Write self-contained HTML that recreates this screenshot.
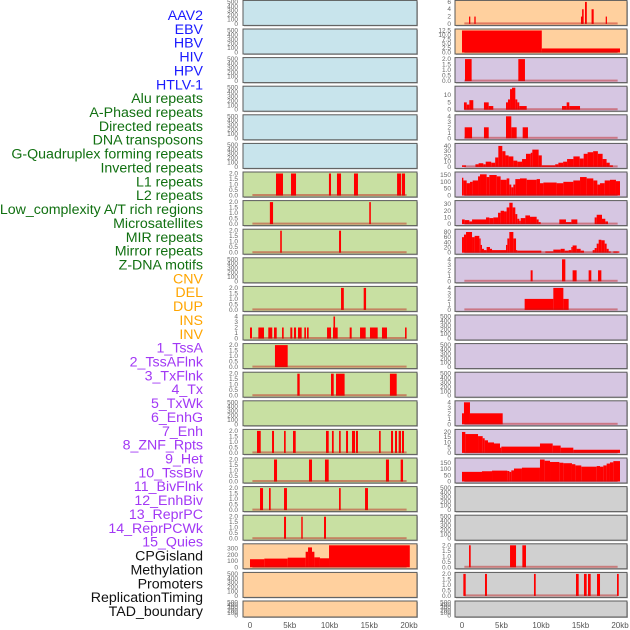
<!DOCTYPE html>
<html><head><meta charset="utf-8">
<style>
html,body{margin:0;padding:0;background:#fff;}
svg{display:block;font-family:"Liberation Sans",sans-serif;}
</style></head>
<body>
<svg id="chart" width="630" height="630" viewBox="0 0 630 630">
<g id="labels"></g>
<g id="panels"></g>
<g id="xaxes"></g>
</svg>
<script>
// ---- data ----
const trackLabels = ["AAV2","EBV","HBV","HIV","HPV","HTLV-1","Alu repeats","A-Phased repeats","Directed repeats","DNA transposons","G-Quadruplex forming repeats","Inverted repeats","L1 repeats","L2 repeats","Low_complexity A/T rich regions","Microsatellites","MIR repeats","Mirror repeats","Z-DNA motifs","CNV","DEL","DUP","INS","INV","1_TssA","2_TssAFlnk","3_TxFlnk","4_Tx","5_TxWk","6_EnhG","7_Enh","8_ZNF_Rpts","9_Het","10_TssBiv","11_BivFlnk","12_EnhBiv","13_ReprPC","14_ReprPCWk","15_Quies","CPGisland","Methylation","Promoters","ReplicationTiming","TAD_boundary"];
const labelGroupSizes = [6,13,5,15,5];
const labelGroupColors = ["#1a1aff","#117011","#ffa500","#a238f5","#111111"];
const xTickValues = [0,5,10,15,20];
const xTickLabels = ["0","5kb","10kb","15kb","20kb"];

const ticks500 = [0,100,200,300,400,500];
const ticks2 = [0,0.5,1,1.5,2];
const ticks4 = [0,1,2,3,4];

// left column bar panels (start kb, end kb, value)
const L7_start=[3.27,5.16,9.93,10.94,13.08,18.5,19.1], L7_end=[4.15,5.79,10.19,11.45,13.58,19.0,19.5], L7_val=[2,2,2,2,2,2,2];
const L8_start=[2.5,15.0], L8_end=[2.9,15.2], L8_val=[2,2];
const L9_start=[3.8,11.2], L9_end=[4.0,11.45], L9_val=[2,2];
const L11_start=[11.45,14.3], L11_end=[11.8,14.6], L11_val=[2,2];
const L12_start=[0.0,1.05,2.3,3.02,4.03,5.07,5.53,6.04,6.83,7.17,9.69,10.44,10.5,12.54,13.84,15.09,16.6,19.5];
const L12_end  =[0.25,1.76,2.8,3.36,4.24,5.32,5.79,6.5,7.04,7.38,10.19,11.03,10.7,12.79,14.55,16.06,17.23,19.7];
const L12_val  =[2,2,2,2,2,2,2,2,2,2,2,2,4,2,2,2,2,2];
const L13_start=[3.14], L13_end=[4.74], L13_val=[2];
const L14_start=[5.95,10.19,10.82,17.6], L14_end=[6.25,10.53,11.9,18.45], L14_val=[2,2,2,2];
const L16_start=[0.88,2.77,4.28,5.41,9.56,10.31,11.2,12.08,12.83,13.33,16.23,17.74,18.24,18.7,19.12];
const L16_end  =[1.35,3.02,4.49,5.75,9.9,10.53,11.41,12.33,13.21,13.58,16.44,17.99,18.49,18.99,19.37];
const L16_val  =[2,2,2,2,2,2,2,2,2,2,2,2,2,2,2];
const L17_start=[3.02,7.42,9.43,17.1,18.95], L17_end=[3.4,7.8,9.9,17.48,19.25], L17_val=[2,2,2,2,2];
const L18_start=[1.26,2.39,4.28,11.2,14.47], L18_end=[1.64,2.6,4.65,11.41,14.84], L18_val=[2,2,2,2,2];
const L19_start=[4.28,6.45,9.31], L19_end=[4.53,6.63,9.56], L19_val=[2,2,2];
const L20_edges=[0,1.8,4.74,7.0,7.3,7.8,8.1,8.8,9.94,20.1], L20_val=[130,140,155,250,320,250,160,145,360];

// right column
const R1_start=[0.89,1.56,15.06,15.2,15.57,16.4,18.19], R1_end=[1.05,1.73,15.3,15.4,15.8,16.67,18.35], R1_val=[2,2,2,4,6,4,2];
const R2_edges=[0,10.1,20], R2_val=[12.5,2.3];
const R3_start=[0.38,7.13], R3_end=[1.22,7.97], R3_val=[2,2];
const R4_edges=[0.25,0.6,0.93,1.43,2.78,3.38,3.96,5.57,5.82,6.08,6.33,6.75,7.0,7.25,8.19,12.66,13.25,13.58,14.94];
const R4_val=[5,3.5,6.5,0,5,2.5,0,5,7,14,15,7,5,2.5,0,2.5,5,2.5];
const R5_start=[0.34,2.78,5.57,6.24,7.68], R5_end=[1.27,3.38,6.24,6.92,8.35], R5_val=[2,2,4,2,2];
const R6_edges=[0,0.5,1.7,2.1,2.7,3.0,3.7,4.2,4.6,5.1,5.5,5.9,6.5,7.0,7.6,8.1,8.7,8.9,9.7,10.1,11.8,12.2,12.8,13.3,14.1,14.9,15.4,15.9,16.6,17.2,17.8,18.3,18.7,19.1];
const R6_val=[3,0,5,7,5,10,8,18,40,30,22,20,12,10,15,25,27,33,22,3,5,8,10,15,20,16,25,28,30,25,15,8,3];
const R7_edges=[0,0.17,0.59,1.01,1.35,2.03,2.28,3.12,3.46,4.39,4.89,5.65,5.99,6.24,6.5,6.75,7.34,8.19,9.45,9.87,10.3,11.98,12.83,14.09,14.94,15.78,16.62,17.13,17.47,18.06,18.73,19.49,20.0];
const R7_val=[130,110,90,100,110,140,155,135,150,140,115,125,80,60,80,120,125,115,120,90,95,90,100,110,135,125,110,80,90,110,115,105];
const R8_edges=[0,0.34,0.93,1.27,3.04,3.46,3.97,4.56,4.89,5.32,5.65,5.99,6.41,6.75,7.0,7.26,7.43,8.02,8.61,9.45,9.7,9.96,12.32,13.16,13.84,14.6,16.79,17.05,17.72,18.14,18.48];
const R8_val=[7,6,4,7,10,9,10,17,20,19,25,32,25,15,8,5,9,13,11,7,3,0,7,3,7,0,10,14,8,4];
const R9_edges=[0,0.25,0.51,1.27,1.6,2.19,2.36,2.53,2.78,3.12,3.54,3.8,5.57,5.74,5.99,6.5,6.84,7.0,10.04,10.55,11.56,12.49,13.0,13.5,13.84,14.0,14.51,15.02,15.44,16.54,16.79,17.05,17.3,17.64,18.06,18.31,18.57,18.82,19.16,19.92];
const R9_val=[60,70,80,60,65,55,30,15,10,22,15,10,30,55,80,55,10,8,0,5,12,15,8,10,22,28,15,8,0,10,18,35,50,48,35,15,5,0,5];
const R10_start=[8.69,12.66,14.0,16.03,17.22], R10_end=[8.94,13.08,14.51,16.37,17.64], R10_val=[2,4,2,2,2];
const R11_edges=[7.93,11.56,12.83,13.5], R11_val=[2,4,2];
const R15_edges=[0,0.25,1.01,5.15], R15_val=[2,4,2];
const R16_edges=[0,0.42,2.03,2.62,2.87,3.29,4.05,4.81,4.98,9.87,11.48,12.49,14.09,20.0];
const R16_val=[20,18,16,14,12,10,9,5,6,9,7,5,3];
const R17_edges=[0,2.53,3.8,5.74,5.99,6.24,6.58,7.59,9.87,10.46,11.14,12.32,12.83,13.92,14.35,15.1,17.05,17.47,17.89,18.31,18.73,19.16,20.0];
const R17_val=[78,83,88,85,78,90,105,112,178,168,158,152,148,140,130,120,125,120,130,145,155,165];
const R20_start=[0.89,6.08,7.64], R20_end=[1.1,6.84,8.1], R20_val=[2,2,2];
const R21_start=[0.17,2.91,9.11,14.43,15.44,15.95,17.09,19.62], R21_end=[0.47,3.16,9.33,14.77,15.78,16.29,17.47,19.84], R21_val=[2,2,2,2,2,2,2,2];

// ---- layout ----
const NS="http://www.w3.org/2000/svg";
const COLS=[{x0:243,x1:417,zero:250,k:7.95,tickX:238},{x0:455,x1:627,zero:462,k:7.9,tickX:451}];
const BLUE="#c8e4ec",GREEN="#c8e0a2",ORANGE="#ffd09e",PURPLE="#d6c6e2",GRAY="#d0d0d0";
function rowTop(r){return 0.4+(r-1)*28.6;}
function rowH(r){return r===22?16:25;}
function mk(tag,attrs,parent){const e=document.createElementNS(NS,tag);for(const k in attrs)e.setAttribute(k,attrs[k]);parent.appendChild(e);return e;}
function steps(edges,vals){const s=[],e=[],v=[];for(let i=0;i<vals.length;i++){s.push(edges[i]);e.push(edges[i+1]);v.push(vals[i]);}return {s,e,v};}

const panels=[];
function P(col,row,bg,ticks,ymax,bars,tickFmt){panels.push({col,row,bg,ticks,ymax,bars,tickFmt});}
for(let r=1;r<=6;r++)P(0,r,BLUE,ticks500,500,null);
P(0,7,GREEN,ticks2,2,{s:L7_start,e:L7_end,v:L7_val},1);
P(0,8,GREEN,ticks2,2,{s:L8_start,e:L8_end,v:L8_val},1);
P(0,9,GREEN,ticks2,2,{s:L9_start,e:L9_end,v:L9_val},1);
P(0,10,GREEN,ticks500,500,null);
P(0,11,GREEN,ticks2,2,{s:L11_start,e:L11_end,v:L11_val},1);
P(0,12,GREEN,ticks4,4,{s:L12_start,e:L12_end,v:L12_val});
P(0,13,GREEN,ticks2,2,{s:L13_start,e:L13_end,v:L13_val},1);
P(0,14,GREEN,ticks2,2,{s:L14_start,e:L14_end,v:L14_val},1);
P(0,15,GREEN,ticks500,500,null);
P(0,16,GREEN,ticks2,2,{s:L16_start,e:L16_end,v:L16_val},1);
P(0,17,GREEN,ticks2,2,{s:L17_start,e:L17_end,v:L17_val},1);
P(0,18,GREEN,ticks2,2,{s:L18_start,e:L18_end,v:L18_val},1);
P(0,19,GREEN,ticks2,2,{s:L19_start,e:L19_end,v:L19_val},1);
P(0,20,ORANGE,[0,100,200,300],354,steps(L20_edges,L20_val));
P(0,21,ORANGE,ticks500,500,null);
P(0,22,ORANGE,ticks500,500,null);

P(1,1,ORANGE,[0,2,4,6],6,{s:R1_start,e:R1_end,v:R1_val});
P(1,2,ORANGE,[0,2.5,5,7.5,10,12.5],12.5,steps(R2_edges,R2_val),1);
P(1,3,PURPLE,ticks2,2,{s:R3_start,e:R3_end,v:R3_val},1);
P(1,4,PURPLE,[0,5,10],15,steps(R4_edges,R4_val));
P(1,5,PURPLE,ticks4,4,{s:R5_start,e:R5_end,v:R5_val});
P(1,6,PURPLE,[0,10,20,30,40],42,steps(R6_edges,R6_val));
P(1,7,PURPLE,[0,50,100,150],161,steps(R7_edges,R7_val));
P(1,8,PURPLE,[0,10,20,30],33,steps(R8_edges,R8_val));
P(1,9,PURPLE,[0,20,40,60,80],85,steps(R9_edges,R9_val));
P(1,10,PURPLE,ticks4,4,{s:R10_start,e:R10_end,v:R10_val});
P(1,11,PURPLE,ticks4,4,steps(R11_edges,R11_val));
P(1,12,PURPLE,ticks500,500,null);
P(1,13,PURPLE,ticks500,500,null);
P(1,14,PURPLE,ticks500,500,null);
P(1,15,PURPLE,ticks4,4,steps(R15_edges,R15_val));
P(1,16,PURPLE,[0,5,10,15,20],21,steps(R16_edges,R16_val));
P(1,17,PURPLE,[0,50,100,150],178,steps(R17_edges,R17_val));
P(1,18,GRAY,ticks500,500,null);
P(1,19,GRAY,ticks500,500,null);
P(1,20,GRAY,ticks2,2,{s:R20_start,e:R20_end,v:R20_val},1);
P(1,21,GRAY,ticks2,2,{s:R21_start,e:R21_end,v:R21_val},1);
P(1,22,GRAY,ticks500,500,null);

// ---- render labels ----
const gL=document.getElementById('labels');
let gi=0,cnt=0;
trackLabels.forEach((t,i)=>{
  const el=mk('text',{x:203,y:15+i*13.86+5,'text-anchor':'end','font-size':'14.2',fill:labelGroupColors[gi]},gL);
  el.textContent=t;
  
  
  cnt++; if(cnt>=labelGroupSizes[gi]){gi++;cnt=0;}
});

// ---- render panels ----
const gP=document.getElementById('panels');
panels.forEach(p=>{
  const c=COLS[p.col],top=rowTop(p.row),h=rowH(p.row);
  const g=mk('g',{},gP);
  
  
  mk('rect',{x:c.x0+1,y:top+1,width:c.x1-c.x0,height:h,fill:'#bbb'},g);
  mk('rect',{x:c.x0,y:top,width:c.x1-c.x0,height:h,fill:p.bg,stroke:'#5a5a5a','stroke-width':'1'},g);
  const y0=top+h-1.5,yt=top+1.5;
  const ys=v=>y0-(v/p.ymax)*(y0-yt);
  const xs=kb=>c.zero+kb*c.k;
  p.ticks.forEach(t=>{
    const tx=mk('text',{x:c.tickX,y:ys(t)+2,'text-anchor':'end','font-size':'6.5',fill:'#666'},g);
    tx.textContent=p.tickFmt?t.toFixed(1):String(t);
    
    
  });
  if(p.bars){
    const b=p.bars;
    for(let i=0;i<b.v.length;i++){
      if(b.v[i]<=0)continue;
      const x1=xs(b.s[i]),x2=xs(b.e[i]);
      const v=Math.min(b.v[i],p.ymax);
      const r=mk('rect',{x:x1,y:ys(v),width:Math.max(x2-x1,1.2),height:y0-ys(v),fill:'#ff0000'},g);
      
      
    }
    const bl=mk('rect',{x:xs(0.3),y:y0-1.5,width:xs(19.7)-xs(0.3),height:2,fill:'rgba(190,20,20,0.45)'},g);
    
    
  }
});

// ---- x axes ----
const gX=document.getElementById('xaxes');
COLS.forEach((c,ci)=>{
  xTickValues.forEach((v,i)=>{
    const t=mk('text',{x:c.zero+v*c.k,y:628,'text-anchor':'middle','font-size':'8',fill:'#555'},gX);
    t.textContent=xTickLabels[i];
    
    
  });
});
</script>
</body></html>
